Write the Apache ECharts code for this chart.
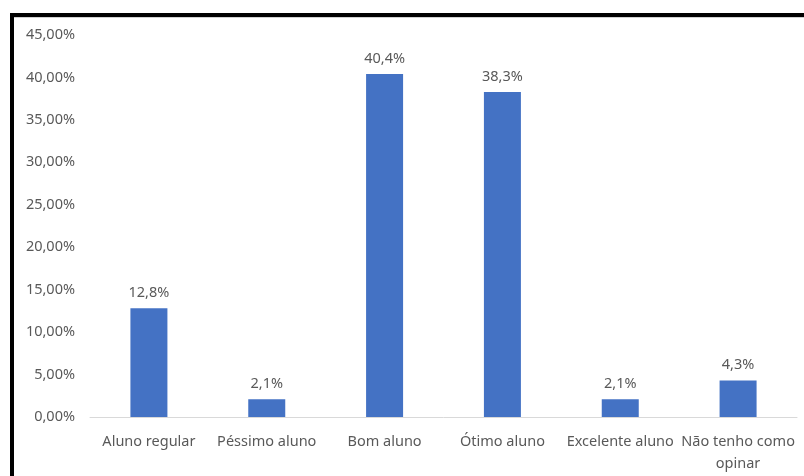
<!DOCTYPE html>
<html>
<head>
<meta charset="utf-8">
<script src="https://cdn.jsdelivr.net/npm/echarts@6/dist/echarts.min.js"></script>
<style>
html,body{margin:0;padding:0;background:#fff;}
#chart{position:absolute;left:0;top:0;width:804px;height:476px;}
#bt{position:absolute;left:10px;top:13px;width:794px;height:4px;background:#000;}
#bt2{position:absolute;left:14px;top:17px;width:790px;height:1px;background:#d0d0d0;}
#bl{position:absolute;left:10px;top:13px;width:4px;height:463px;background:#000;}
</style>
</head>
<body>
<div id="chart"></div>
<div id="bt"></div><div id="bt2"></div><div id="bl"></div>
<script>
var categories = ['Aluno regular', 'Péssimo aluno', 'Bom aluno', 'Ótimo aluno', 'Excelente aluno', 'Não tenho como\nopinar'];
var values = [12.8, 2.1, 40.4, 38.3, 2.1, 4.3];
var yTicks = [0, 5, 10, 15, 20, 25, 30, 35, 40, 45];

var chart = echarts.init(document.getElementById('chart'));
chart.setOption({
  animation: false,
  backgroundColor: '#fff',
  textStyle: {fontFamily: 'Noto Sans'},
  grid: {left: 90, right: 7, top: 35, bottom: 59, containLabel: false},
  xAxis: {
    type: 'category',
    data: categories,
    axisLine: {lineStyle: {color: '#d9d9d9', width: 1}},
    axisTick: {show: false},
    axisLabel: {color: '#595959', fontSize: 14.5, margin: 14, lineHeight: 22, interval: 0, fontFamily: 'Noto Sans'}
  },
  yAxis: {
    type: 'value',
    min: yTicks[0],
    max: yTicks[yTicks.length - 1],
    interval: 5,
    splitLine: {show: false},
    axisLine: {show: false},
    axisTick: {show: false},
    axisLabel: {
      color: '#595959', fontSize: 14.5, margin: 15, fontFamily: 'Noto Sans',
      formatter: function (v) { return v.toFixed(2).replace('.', ',') + '%'; }
    }
  },
  series: [{
    type: 'bar',
    data: values,
    barWidth: 37,
    itemStyle: {color: '#4472C4'},
    label: {
      show: true, position: 'top', distance: 8,
      color: '#595959', fontSize: 14.5, fontFamily: 'Noto Sans',
      formatter: function (p) { return p.value.toFixed(1).replace('.', ',') + '%'; }
    }
  }]
});
</script>
</body>
</html>
